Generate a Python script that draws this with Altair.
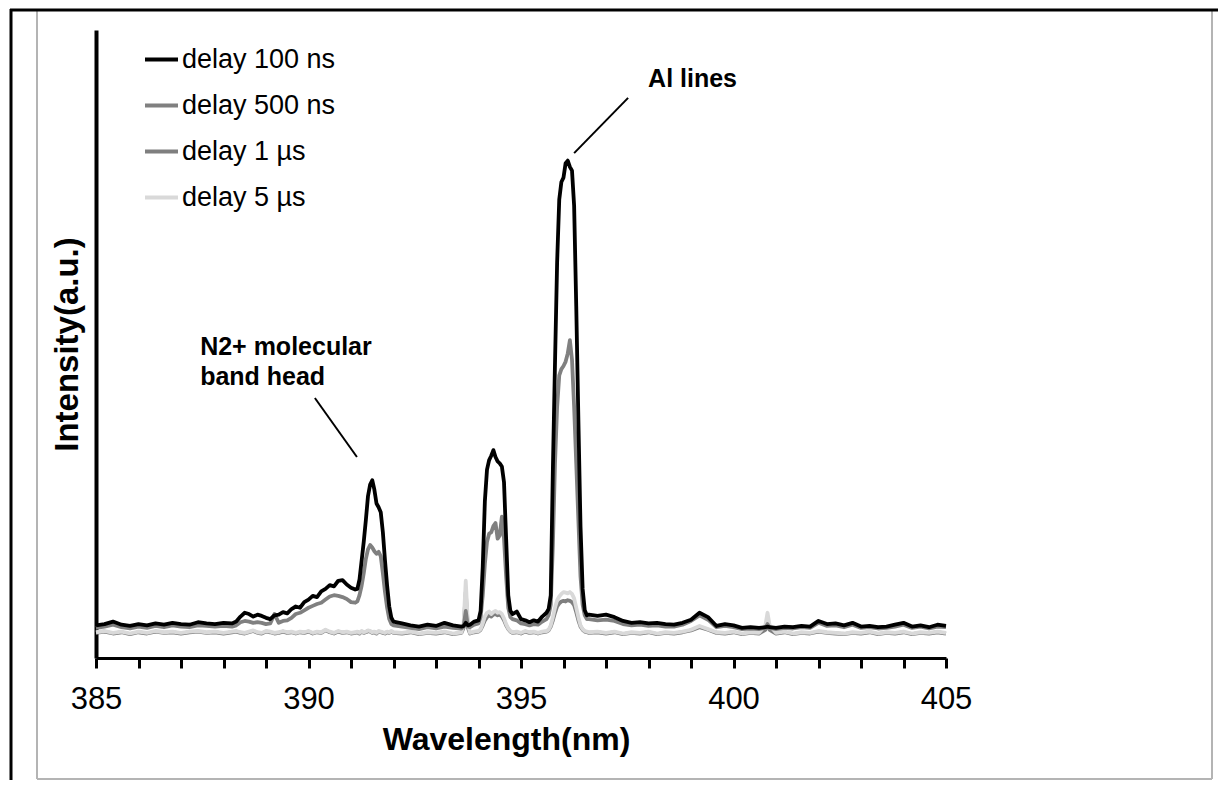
import altair as alt
import pandas as pd

# ---------------- data ----------------
wavelength = [
    385.0, 385.2, 385.4, 385.6, 385.8, 386.0, 386.2, 386.4, 386.6, 386.8, 387.0, 387.2, 387.4, 387.6, 387.8, 388.0, 388.2,
    388.3, 388.4, 388.5, 388.6, 388.7, 388.8, 388.9, 389.0, 389.1, 389.2, 389.3, 389.4, 389.5, 389.6, 389.7, 389.8, 389.9,
    390.0, 390.1, 390.2, 390.3, 390.4, 390.5, 390.6, 390.7, 390.8, 390.9, 391.0, 391.1,
    391.15, 391.2, 391.25, 391.3, 391.35, 391.4, 391.45, 391.5, 391.55, 391.6, 391.65, 391.7, 391.75, 391.8, 391.85, 391.9, 391.95, 392.0,
    392.2, 392.4, 392.6, 392.8, 393.0, 393.2, 393.4, 393.6,
    393.65, 393.7, 393.75,
    393.8, 393.9, 394.0,
    394.05, 394.1, 394.15, 394.2, 394.25, 394.3, 394.35, 394.4, 394.45, 394.5, 394.55, 394.6, 394.65, 394.7, 394.75, 394.8,
    394.9, 395.0, 395.1, 395.2, 395.3, 395.4, 395.5, 395.6,
    395.65, 395.7, 395.75, 395.8, 395.85, 395.9, 395.95, 396.0, 396.05, 396.1, 396.15, 396.2, 396.25, 396.3, 396.35, 396.4, 396.45, 396.5, 396.55, 396.6,
    396.8, 397.0, 397.2, 397.4, 397.6, 397.8, 398.0, 398.2, 398.4, 398.6, 398.8, 399.0, 399.2, 399.4, 399.6, 399.8, 400.0, 400.2, 400.4, 400.6,
    400.75, 400.8, 400.85,
    401.0, 401.2, 401.4, 401.6, 401.8, 402.0, 402.2, 402.4, 402.6, 402.8, 403.0, 403.2, 403.4, 403.6, 403.8, 404.0, 404.2, 404.4, 404.6, 404.8, 405.0,
]

delay_100ns = [
    5.2, 5.4, 5.8, 5.3, 5.1, 5.4, 5.2, 5.5, 5.3, 5.6, 5.4, 5.3, 5.7, 5.5, 5.4, 5.6, 5.5,
    5.8, 6.6, 7.2, 7.0, 6.6, 6.9, 6.7, 6.4, 6.2, 6.8, 6.9, 7.3, 7.1, 7.8, 8.2, 8.0, 8.9,
    9.3, 9.9, 9.7, 10.6, 11.0, 11.6, 11.4, 12.3, 12.4, 11.7, 11.2, 10.9,
    11.0, 12.5, 15.5, 18.5, 22.0, 25.8, 27.6, 28.3, 26.8, 24.6, 24.0, 23.2, 20.0, 15.5, 11.5, 8.2, 6.4, 5.8,
    5.5, 5.2, 5.0, 5.3, 5.1, 5.6, 5.2, 5.0,
    5.1, 5.6, 5.2,
    5.3, 5.8, 6.0,
    7.5, 14.5, 25.0, 30.0, 31.5, 32.2, 33.1, 32.0, 31.3, 31.0, 30.5, 28.0, 19.0, 10.0, 7.5, 7.0,
    7.4, 6.2, 6.0, 5.7, 6.0, 5.8, 6.6, 7.2,
    7.8, 10.0, 30.0, 47.0, 63.0, 73.0, 75.8, 76.5, 78.8, 79.2, 78.2, 77.6, 72.0, 56.0, 38.0, 21.0, 11.0, 7.6, 6.8, 6.9,
    6.7, 6.9, 6.5, 5.9, 5.6, 5.7, 5.5, 5.6, 5.4, 5.3, 5.6, 6.1, 7.2, 6.5, 5.1, 5.4, 5.2, 4.8, 4.9, 4.8,
    4.9, 5.0, 4.9,
    4.8, 5.0, 4.9, 5.1, 5.0, 5.9, 5.4, 5.5, 5.2, 5.6, 5.0, 5.1, 4.9, 5.0, 5.3, 5.6, 5.0, 5.2, 4.9, 5.3, 5.1,
]

delay_500ns = [
    4.8, 5.0, 5.3, 4.9, 4.7, 5.0, 4.8, 5.1, 4.9, 5.2, 5.0, 4.9, 5.2, 5.1, 5.0, 5.1, 5.0,
    5.2, 5.7, 5.9, 5.8, 5.6, 5.7, 5.6, 5.4, 5.5, 7.0, 5.6, 5.9, 6.0, 6.4, 7.0, 7.2, 7.6,
    8.0, 8.3, 8.6, 8.8, 9.3, 9.8, 10.0, 9.9, 9.7, 9.4, 8.9, 8.8,
    9.0, 10.0, 11.5, 13.5, 15.8, 17.3, 18.0, 17.6, 17.0, 16.6, 16.9, 16.2, 13.5, 10.5, 8.0, 6.2, 5.4, 5.2,
    5.0, 4.8, 4.6, 4.9, 4.7, 5.0, 4.8, 4.7,
    5.0, 7.5, 5.0,
    4.9, 5.3, 5.5,
    6.5, 10.0, 15.0, 18.5, 19.8, 20.0, 21.0, 21.5, 19.0, 19.5, 22.5, 19.0, 13.0, 8.0, 6.5, 6.2,
    6.0, 5.5, 5.4, 5.2, 5.4, 5.3, 5.8, 6.2,
    6.8, 8.5, 18.0, 31.0, 40.0, 45.0, 46.0, 46.5, 47.2, 48.5, 50.6, 47.5, 40.0, 31.0, 22.0, 13.0, 8.5, 6.8, 6.2, 6.2,
    6.0, 6.1, 5.9, 5.4, 5.2, 5.3, 5.1, 5.2, 5.0, 5.0, 5.3, 5.9, 6.8, 6.1, 4.9, 5.1, 4.9, 4.6, 4.7, 4.6,
    4.8, 5.4, 4.8,
    4.6, 4.8, 4.7, 4.9, 4.8, 5.6, 5.1, 5.2, 4.9, 5.3, 4.8, 4.9, 4.7, 4.8, 5.0, 5.3, 4.8, 5.0, 4.7, 5.0, 4.9,
]

delay_1us = [
    4.0, 4.2, 3.9, 4.1, 3.8, 4.1, 3.9, 4.2, 4.0, 4.1, 3.9, 4.1, 4.2, 4.0, 4.1, 3.9, 4.1,
    4.2, 4.0, 3.9, 4.1, 4.3, 4.0, 3.9, 4.2, 4.1, 3.9, 4.0, 4.2, 4.0, 4.1, 3.9, 4.1, 4.0,
    4.2, 3.9, 4.1, 4.0, 4.4, 4.1, 3.9, 4.2, 4.0, 4.1, 3.9, 4.0,
    4.1, 3.9, 4.2, 4.0, 4.1, 4.3, 4.2, 4.0, 4.1, 3.9, 4.2, 4.1, 4.0, 3.9, 4.1, 4.0, 4.2, 4.0,
    3.9, 4.1, 3.8, 4.0, 3.9, 4.1, 3.8, 4.0,
    4.8, 10.5, 4.8,
    3.9, 4.1, 4.2,
    4.5, 5.2, 6.0, 6.5, 6.8, 6.6, 6.9, 7.0, 6.8, 6.9, 6.6, 6.0, 5.2, 4.6, 4.2, 4.0,
    4.1, 3.9, 4.2, 4.0, 4.1, 3.9, 4.1, 4.2,
    4.4, 5.0, 6.0, 7.2, 8.2, 8.7, 9.0, 9.1, 9.0, 9.2, 9.1, 8.9, 8.4, 7.3, 6.0, 5.0, 4.5, 4.2, 4.1, 4.0,
    4.1, 3.9, 4.1, 3.8, 4.0, 3.9, 4.1, 3.8, 4.0, 3.9, 4.1, 4.4, 4.9, 4.5, 4.0, 3.9, 4.1, 3.8, 4.0, 3.9,
    4.5, 5.4, 4.5,
    3.9, 4.1, 3.8, 4.0, 3.9, 4.2, 4.0, 3.9, 3.8, 4.0, 3.9, 4.1, 3.8, 4.0, 3.9, 4.1, 3.8, 4.0, 3.9, 4.1, 3.9,
]

delay_5us = [
    4.1, 4.3, 4.0, 4.2, 3.9, 4.2, 4.0, 4.3, 4.1, 4.2, 4.0, 4.2, 4.3, 4.1, 4.2, 4.0, 4.2,
    4.3, 4.1, 4.0, 4.2, 4.4, 4.1, 4.0, 4.3, 4.2, 4.0, 4.1, 4.3, 4.1, 4.2, 4.0, 4.2, 4.1,
    4.3, 4.0, 4.2, 4.1, 4.5, 4.2, 4.0, 4.3, 4.1, 4.2, 4.0, 4.1,
    4.2, 4.0, 4.3, 4.1, 4.2, 4.4, 4.3, 4.1, 4.2, 4.0, 4.3, 4.2, 4.1, 4.0, 4.2, 4.1, 4.3, 4.1,
    4.0, 4.2, 3.9, 4.1, 4.0, 4.2, 3.9, 4.1,
    5.5, 12.3, 5.5,
    4.0, 4.2, 4.3,
    4.6, 5.5, 6.6, 7.2, 7.4, 7.0, 7.3, 7.5, 7.2, 7.3, 7.0, 6.3, 5.4, 4.7, 4.3, 4.1,
    4.2, 4.0, 4.3, 4.1, 4.2, 4.0, 4.2, 4.3,
    4.5, 5.2, 6.5, 8.0, 9.2, 9.8, 10.2, 10.5, 10.4, 10.3, 10.5, 10.2, 9.5, 8.0, 6.5, 5.2, 4.6, 4.3, 4.2, 4.1,
    4.2, 4.0, 4.2, 3.9, 4.1, 4.0, 4.2, 3.9, 4.1, 4.0, 4.2, 4.5, 5.1, 4.6, 4.1, 4.0, 4.2, 3.9, 4.1, 4.0,
    5.2, 7.2, 5.2,
    4.0, 4.2, 3.9, 4.1, 4.0, 4.3, 4.1, 4.0, 3.9, 4.1, 4.0, 4.2, 3.9, 4.1, 4.0, 4.2, 3.9, 4.1, 4.0, 4.2, 4.0,
]

series_names = ["delay 100 ns", "delay 500 ns", "delay 1 µs", "delay 5 µs"]
series_colors = ["#000000", "#808080", "#7f7f7f", "#d9d9d9"]
x_ticks = [385, 386, 387, 388, 389, 390, 391, 392, 393, 394, 395,
           396, 397, 398, 399, 400, 401, 402, 403, 404, 405]

ann_labels = ["Al lines", "N2+ molecular", "band head"]
ann_x = [397.99, 387.45, 387.45]
ann_y = [90.9, 48.2, 43.5]
lead_x1 = [397.52, 390.15]
lead_y1 = [89.2, 41.4]
lead_x2 = [396.25, 391.14]
lead_y2 = [80.4, 32.0]

# ---------------- build tables ----------------
series_values = {
    "delay 100 ns": delay_100ns,
    "delay 500 ns": delay_500ns,
    "delay 1 µs": delay_1us,
    "delay 5 µs": delay_5us,
}
rows = []
draw_order = ["delay 1 µs", "delay 5 µs", "delay 500 ns", "delay 100 ns"]
for name in draw_order:
    vals = series_values[name]
    assert len(vals) == len(wavelength), (name, len(vals), len(wavelength))
    for i, (w, v) in enumerate(zip(wavelength, vals)):
        rows.append({"series": name, "wl": w, "intensity": v, "i": i})
df = pd.DataFrame(rows)

ann_df = pd.DataFrame({"x": ann_x, "y": ann_y, "label": ann_labels})
lead_df = pd.DataFrame({"x": lead_x1, "y": lead_y1, "x2": lead_x2, "y2": lead_y2})

FONT = "Liberation Sans"

x_scale = alt.Scale(domain=[385, 405], nice=False, zero=False)
y_scale = alt.Scale(domain=[0, 100], nice=False, zero=True)

lines = alt.Chart(df).mark_line(strokeWidth=3.8, strokeJoin="round").encode(
    x=alt.X("wl:Q", scale=x_scale, axis=alt.Axis(
        values=x_ticks, labelExpr="datum.value % 5 == 0 ? datum.label : ''",
        format="d", labelOverlap=False, labelFlush=False,
        labelFontSize=31, labelFont=FONT, labelColor="#000000", labelPadding=16,
        tickSize=10, tickWidth=3, tickColor="#000000",
        domainColor="#000000", domainWidth=3, grid=False,
        title="Wavelength(nm)", titleFont=FONT, titleFontSize=32, titleFontWeight="bold",
        titleColor="#000000", titlePadding=10, titleX=410, titleAnchor="middle")),
    y=alt.Y("intensity:Q", scale=y_scale, axis=alt.Axis(
        ticks=False, labels=False, grid=False, domainColor="#000000", domainWidth=4,
        title="Intensity(a.u.)", titleFont=FONT, titleFontSize=33, titleFontWeight="bold",
        titleColor="#000000", titlePadding=12)),
    color=alt.Color("series:N", scale=alt.Scale(domain=series_names, range=series_colors),
                    legend=alt.Legend(
                        title=None, orient="none", legendX=47, legendY=11,
                        symbolType="stroke", symbolSize=1089, symbolStrokeWidth=3.8,
                        labelFont=FONT, labelFontSize=27, labelColor="#000000",
                        labelOffset=2, rowPadding=14, padding=0)),
    order=alt.Order("i:Q"),
    detail="series:N",
)

ann_text = alt.Chart(ann_df).mark_text(
    align="left", baseline="alphabetic", font=FONT, fontSize=25, fontWeight="bold", color="#000000"
).encode(x=alt.X("x:Q", scale=x_scale), y=alt.Y("y:Q", scale=y_scale), text="label:N")

leaders = alt.Chart(lead_df).mark_rule(color="#000000", strokeWidth=2).encode(
    x=alt.X("x:Q", scale=x_scale), y=alt.Y("y:Q", scale=y_scale), x2="x2:Q", y2="y2:Q")

deco = alt.Data(values=[{"k": 1}])
frame_gray = [
    alt.Chart(deco).mark_rule(color="#b4b4b4", strokeWidth=2).encode(
        x=alt.value(-59), y=alt.value(-19), y2=alt.value(749)),
    alt.Chart(deco).mark_rule(color="#b4b4b4", strokeWidth=2).encode(
        x=alt.value(1116), y=alt.value(-19), y2=alt.value(749)),
    alt.Chart(deco).mark_rule(color="#b4b4b4", strokeWidth=2).encode(
        x=alt.value(-59), x2=alt.value(1116), y=alt.value(749)),
]
frame_black = [
    alt.Chart(deco).mark_rule(color="#000000", strokeWidth=3).encode(
        x=alt.value(-86), x2=alt.value(1124), y=alt.value(-20)),
    alt.Chart(deco).mark_rule(color="#000000", strokeWidth=3).encode(
        x=alt.value(-85), y=alt.value(-21), y2=alt.value(752)),
]

chart = alt.layer(*frame_gray, *frame_black, lines, leaders, ann_text).properties(
    width=850, height=628,
    padding={"left": 88, "top": 22, "right": 272, "bottom": 122},
    autosize=alt.AutoSizeParams(type="none"),
    background="#ffffff",
).configure_view(stroke=None)

chart.save("out.html", embed_options={"renderer": "svg", "actions": False})
